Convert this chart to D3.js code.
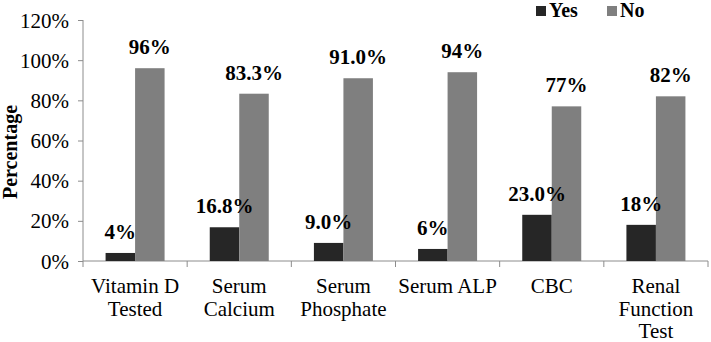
<!DOCTYPE html>
<html>
<head>
<script src="https://d3js.org/d3.v7.min.js"></script>
<style>
body { margin: 0; background: #fff; }
</style>
</head>
<body>
<svg class="chart"></svg>
<script>
var categories = [["Vitamin D", "Tested"], ["Serum", "Calcium"], ["Serum", "Phosphate"], ["Serum ALP"], ["CBC"], ["Renal", "Function", "Test"]];
var yesValues = [4, 16.8, 9.0, 6, 23.0, 18];
var noValues = [96, 83.3, 91.0, 94, 77, 82];
var yesLabels = ["4%", "16.8%", "9.0%", "6%", "23.0%", "18%"];
var noLabels = ["96%", "83.3%", "91.0%", "94%", "77%", "82%"];
var yTicks = [0, 20, 40, 60, 80, 100, 120];

var svgWidth = 711, svgHeight = 342;
var margin = {top: 20, right: 3, bottom: 81, left: 83};
var width = svgWidth - margin.left - margin.right;
var height = svgHeight - margin.top - margin.bottom;

var font = "'Liberation Serif', 'Times New Roman', serif";
var yesColor = "#262626", noColor = "#7f7f7f", axisColor = "#8c8c8c";

var svg = d3.select(".chart").attr("width", svgWidth).attr("height", svgHeight)
    .attr("font-family", font);
var chart = svg.append("g").attr("transform", "translate(" + margin.left + "," + margin.top + ")");

var idx = d3.range(categories.length);
var xScale = d3.scaleBand().domain(idx).range([0, width]);
var yScale = d3.scaleLinear().domain([0, 120]).range([height, 0]);
var barW = 29.5;

// y axis
var yAxis = d3.axisLeft(yScale).tickValues(yTicks).tickSize(5).tickFormat(function (d) { return d + "%"; });
var yg = chart.append("g").call(yAxis).attr("font-family", font).attr("font-size", 21);
yg.select(".domain").attr("stroke", axisColor).attr("d", "M0,0V" + height);
yg.selectAll(".tick line").attr("stroke", axisColor);
yg.selectAll(".tick text").attr("fill", "#000").attr("x", -14).attr("dy", "0.34em");

// x axis baseline and boundary ticks
chart.append("line").attr("x1", 0).attr("x2", width).attr("y1", height).attr("y2", height).attr("stroke", axisColor);
chart.selectAll(".xtick").data(d3.range(categories.length + 1)).enter().append("line")
    .attr("x1", function (d) { return d * xScale.step(); })
    .attr("x2", function (d) { return d * xScale.step(); })
    .attr("y1", height).attr("y2", height + 6).attr("stroke", axisColor);

function center(i) { return xScale(i) + xScale.bandwidth() / 2; }

// category labels
chart.selectAll(".cat").data(idx).enter().append("text")
    .attr("text-anchor", "middle")
    .attr("font-size", 21)
    .attr("transform", function (i) { return "translate(" + center(i) + "," + (height + 32) + ")"; })
    .each(function (i) {
        var t = d3.select(this);
        categories[i].forEach(function (line, k) {
            t.append("tspan").attr("x", 0).attr("y", k * 22.5).text(line);
        });
    });

// bars
chart.selectAll(".yes").data(idx).enter().append("rect")
    .attr("x", function (i) { return center(i) - barW; })
    .attr("width", barW)
    .attr("y", function (i) { return yScale(yesValues[i]); })
    .attr("height", function (i) { return height - yScale(yesValues[i]); })
    .attr("fill", yesColor);
chart.selectAll(".no").data(idx).enter().append("rect")
    .attr("x", function (i) { return center(i); })
    .attr("width", barW)
    .attr("y", function (i) { return yScale(noValues[i]); })
    .attr("height", function (i) { return height - yScale(noValues[i]); })
    .attr("fill", noColor);

// value labels
chart.selectAll(".yl").data(idx).enter().append("text")
    .attr("text-anchor", "middle").attr("font-size", 21).attr("font-weight", "bold")
    .attr("x", function (i) { return center(i) - barW / 2; })
    .attr("y", function (i) { return yScale(yesValues[i]) - 14; })
    .text(function (i) { return yesLabels[i]; });
chart.selectAll(".nl").data(idx).enter().append("text")
    .attr("text-anchor", "middle").attr("font-size", 21).attr("font-weight", "bold")
    .attr("x", function (i) { return center(i) + barW / 2; })
    .attr("y", function (i) { return yScale(noValues[i]) - 14; })
    .text(function (i) { return noLabels[i]; });

// y title
svg.append("text")
    .attr("transform", "translate(17,152) rotate(-90)")
    .attr("text-anchor", "middle").attr("font-size", 20).attr("font-weight", "bold")
    .text("Percentage");

// legend
var legend = [["Yes", yesColor, 536], ["No", noColor, 607]];
legend.forEach(function (l) {
    svg.append("rect").attr("x", l[2]).attr("y", 6).attr("width", 10).attr("height", 10).attr("fill", l[1]);
    svg.append("text").attr("x", l[2] + 13).attr("y", 17).attr("font-size", 20).attr("font-weight", "bold").text(l[0]);
});
</script>
</body>
</html>
